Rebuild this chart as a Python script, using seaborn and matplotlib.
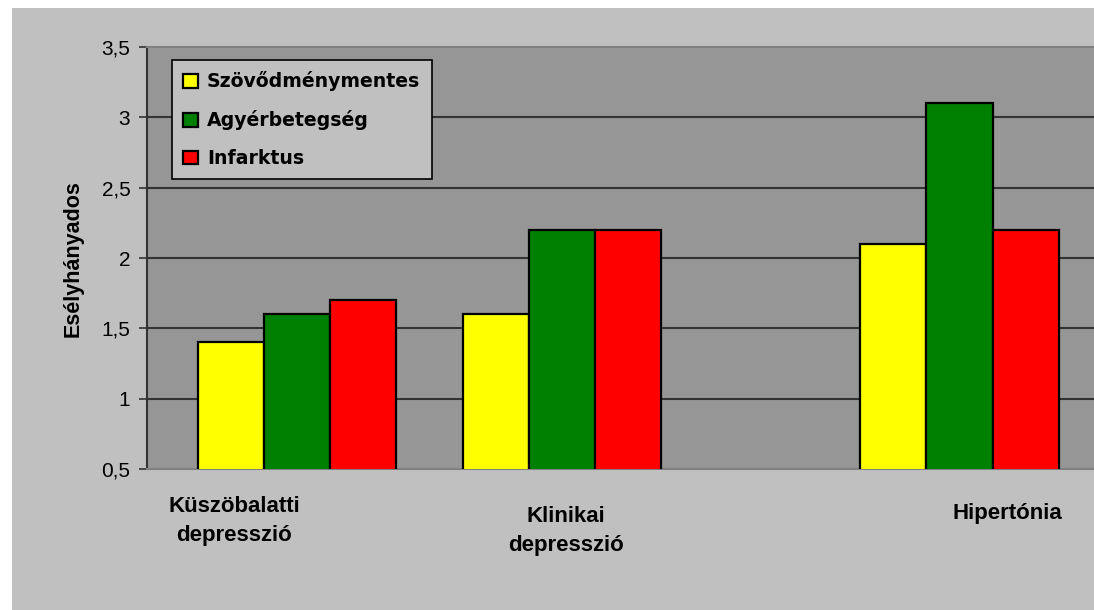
import matplotlib
matplotlib.use("Agg")
import matplotlib.pyplot as plt
import seaborn as sns
import pandas as pd
from matplotlib.patches import Rectangle

# ---- data ----
categories = ["Küszöbalatti\ndepresszió", "Klinikai\ndepresszió", "Hipertónia"]
series = ["Szövődménymentes", "Agyérbetegség", "Infarktus"]
szovodmenymentes = [1.4, 1.6, 2.1]
agyerbetegseg = [1.6, 2.2, 3.1]
infarktus = [1.7, 2.2, 2.2]
y_ticks = [0.5, 1, 1.5, 2, 2.5, 3, 3.5]
y_tick_labels = ["0,5", "1", "1,5", "2", "2,5", "3", "3,5"]
y_label = "Esélyhányados"

colors = ["#FFFF00", "#008000", "#FF0000"]

# layout: uneven group slots as in the original chart
slot = dict(zip(categories, [0, 2, 5]))

rows = []
for s, vals in zip(series, [szovodmenymentes, agyerbetegseg, infarktus]):
    for c, v in zip(categories, vals):
        rows.append({"cat": c, "pos": slot[c], "series": s, "value": v})
df = pd.DataFrame(rows)

sns.set_theme(style="white")
plt.rcParams["font.family"] = ["Liberation Sans", "DejaVu Sans"]
plt.rcParams["text.color"] = "black"
plt.rcParams["ytick.color"] = "black"

W, H = 1094, 610
fig = plt.figure(figsize=(W / 100, H / 100), dpi=100, facecolor="white")
fig.patches.append(Rectangle((12 / W, 0), 1 - 12 / W, (H - 8) / H,
                             transform=fig.transFigure, facecolor="#C0C0C0",
                             edgecolor="none", zorder=-10))

left, right, top, bottom = 147, 1094, 47, 469
ax = fig.add_axes([left / W, 1 - bottom / H, (right - left) / W, (bottom - top) / H])
ax.set_facecolor("#969696")

sns.barplot(data=df, x="pos", y="value", hue="series", hue_order=series,
            native_scale=True, palette=colors, edgecolor="black", linewidth=1.6,
            width=0.75, saturation=1, ax=ax, zorder=3)

ax.set_ylim(0.5, 3.5)
ax.set_xlim(-1.132, 6.015)
ax.set_yticks(y_ticks)
ax.set_yticklabels(y_tick_labels, fontsize=15, color="black")
ax.set_xticks([])
ax.set_xlabel("")
ax.set_ylabel("")
for yv in y_ticks[1:-1]:
    ax.axhline(yv, color="#333333", linewidth=1.5, zorder=1)

for sp in ["top", "bottom", "right"]:
    ax.spines[sp].set_color("#808080")
    ax.spines[sp].set_linewidth(1.5)
ax.spines["right"].set_visible(False)
ax.spines["left"].set_color("#333333")
ax.spines["left"].set_linewidth(1.5)
ax.tick_params(axis="y", direction="out", length=6, width=1.2, color="#333333",
               left=True, pad=6, labelcolor="black")

fig.text(73 / W, 1 - 259 / H, y_label, rotation=90, ha="center", va="center",
         fontsize=15.5, fontweight="bold", color="black")

# category labels (placed as in the original)
label_xy = [(234, 521), (566, 531), (1007, 513)]
for c, (px, py) in zip(categories, label_xy):
    fig.text(px / W, 1 - py / H, c, ha="center", va="center", fontsize=16,
             fontweight="bold", linespacing=1.5, color="black")

leg = ax.legend(loc="upper left", bbox_to_anchor=((172 - left) / (right - left),
                (bottom - 60) / (bottom - top)), borderaxespad=0,
                frameon=True, fancybox=False, facecolor="#C0C0C0", edgecolor="black",
                framealpha=1, handlelength=0.75, handleheight=0.75, handletextpad=0.5,
                labelspacing=1.0, borderpad=0.6,
                prop={"weight": "bold", "size": 13.6, "family": "DejaVu Sans"})
leg.get_frame().set_linewidth(1.2)
for t in leg.get_texts():
    t.set_color("black")
leg.set_zorder(10)

fig.savefig("out.png", dpi=100, facecolor="white")
